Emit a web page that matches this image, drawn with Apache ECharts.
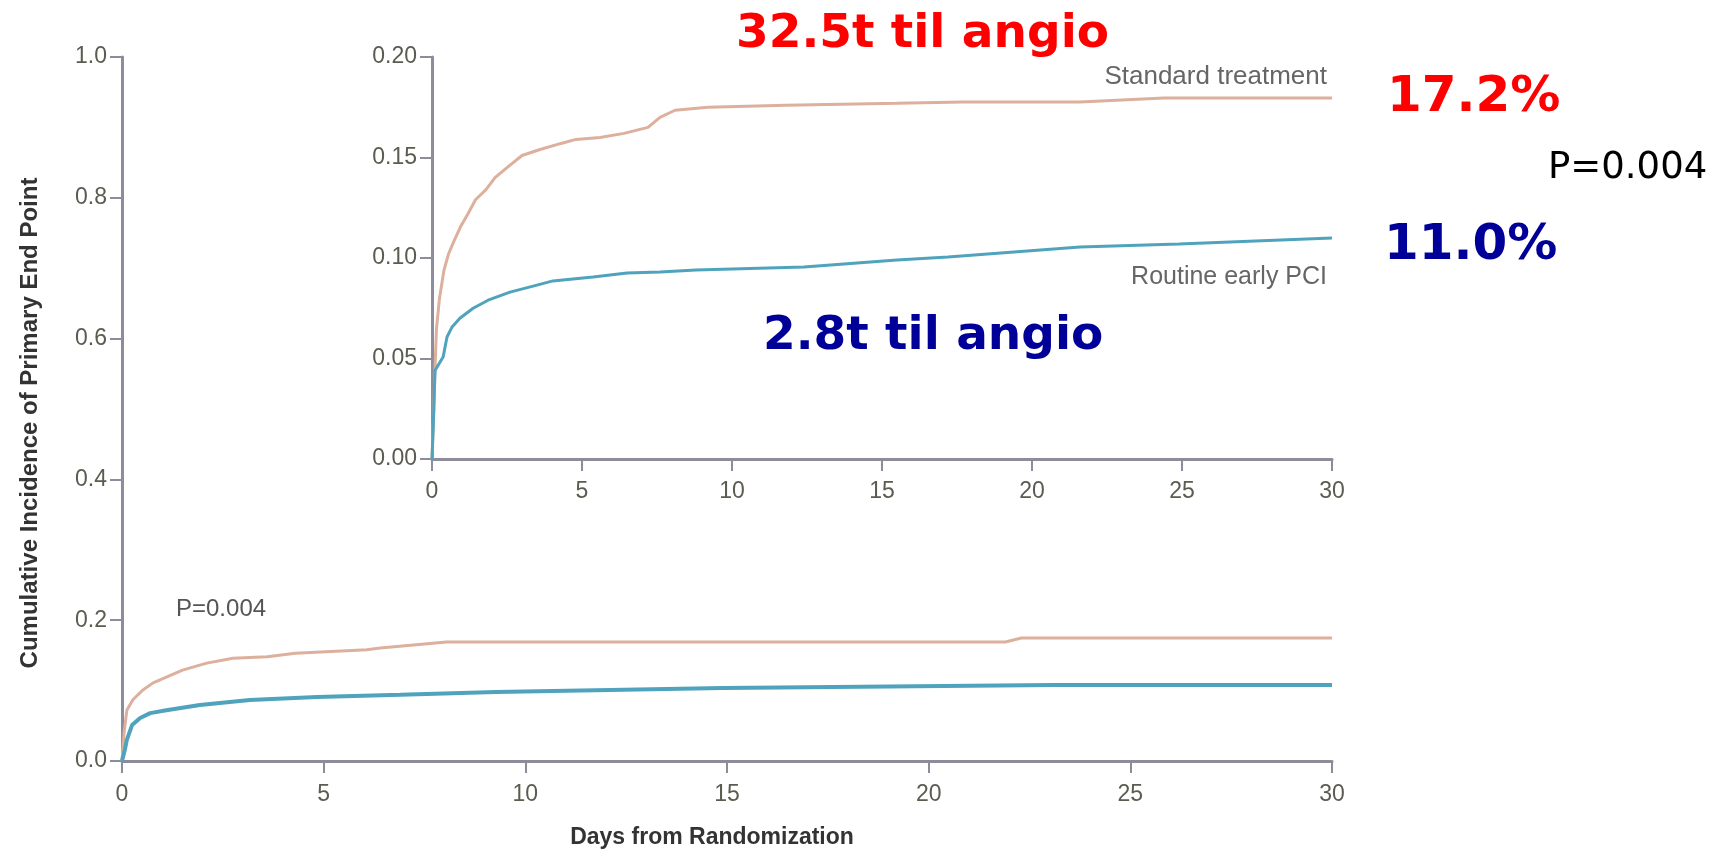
<!DOCTYPE html>
<html>
<head>
<meta charset="utf-8">
<script src="https://cdn.jsdelivr.net/npm/echarts@6/dist/echarts.min.js"></script>
<style>
html,body{margin:0;padding:0;background:#fff;}
#chart{width:1722px;height:852px;}
</style>
</head>
<body>
<div id="chart"></div>
<script>
// ---- Data (days, cumulative incidence) ----
var mainStandard = [[0,0],[0.05,0.04],[0.12,0.072],[0.27,0.087],[0.52,0.101],[0.77,0.111],[1.1,0.119],[1.5,0.129],[2.1,0.139],[2.75,0.146],[3.6,0.148],[4.3,0.153],[6.07,0.158],[6.4,0.1605],[8.05,0.169],[21.9,0.169],[22.3,0.1747],[30,0.1747]];
var mainPCI = [[0,0],[0.07,0.016],[0.12,0.03],[0.25,0.051],[0.45,0.061],[0.7,0.068],[1.1,0.072],[1.93,0.0795],[3.17,0.0866],[4.83,0.091],[6.9,0.094],[9.27,0.098],[14.9,0.1037],[23.1,0.108],[30,0.108]];
var insetStandard = [[0,0],[0.05,0.02],[0.1,0.045],[0.15,0.065],[0.25,0.08],[0.4,0.094],[0.55,0.102],[0.75,0.109],[0.95,0.1155],[1.2,0.122],[1.45,0.129],[1.8,0.134],[2.1,0.14],[2.5,0.145],[3.0,0.151],[3.6,0.154],[4.3,0.157],[4.8,0.159],[5.6,0.16],[6.4,0.162],[7.2,0.165],[7.6,0.17],[8.1,0.1735],[9.2,0.175],[11.8,0.176],[15.5,0.177],[17.7,0.1776],[21.6,0.1776],[24.4,0.1796],[30,0.1796]];
var insetPCI = [[0,0],[0.05,0.02],[0.1,0.044],[0.37,0.0507],[0.5,0.0607],[0.67,0.0657],[0.93,0.07],[1.37,0.075],[1.87,0.079],[2.6,0.083],[3.37,0.086],[4.03,0.0886],[5.37,0.0906],[6.5,0.0925],[7.6,0.093],[8.8,0.094],[12.4,0.0955],[15.5,0.099],[17.2,0.1005],[19.4,0.103],[21.6,0.1055],[24.9,0.1070],[28.3,0.109],[30,0.11]];
var xTicks = [0,5,10,15,20,25,30];
var mainYTicks = ['0.0','0.2','0.4','0.6','0.8','1.0'];
var insetYTicks = ['0.00','0.05','0.10','0.15','0.20'];
var seriesNames = ['Standard treatment','Routine early PCI'];

var axisCol = '#8c8c9a';
var labCol = '#5b5b50';
var orange = '#dcb09c';
var blue = '#4fa3bd';

function axisCommon(){
  return {
    axisLine:{show:true,lineStyle:{color:axisCol,width:3}},
    axisTick:{show:true,length:12,lineStyle:{color:axisCol,width:2}},
    splitLine:{show:false},
    axisLabel:{color:labCol,fontSize:23,fontFamily:'Liberation Sans',margin:15}
  };
}
function xAx(gi, margin){
  var a = axisCommon();
  a.type='value'; a.gridIndex=gi; a.min=xTicks[0]; a.max=xTicks[xTicks.length-1]; a.interval=5;
  a.axisLabel.margin=margin;
  return a;
}
function yAx(gi, ticks, interval){
  var a = axisCommon();
  a.type='value'; a.gridIndex=gi; a.min=0; a.max=interval*(ticks.length-1); a.interval=interval;
  a.axisLabel.formatter=function(v){ var i=Math.round(v/interval); return ticks[i]; };
  return a;
}

var chart = echarts.init(document.getElementById('chart'));
chart.setOption({
  animation:false,
  backgroundColor:'#fff',
  grid:[
    {left:122, top:57, right:390, bottom:91},
    {left:432, top:57, right:390, bottom:393}
  ],
  xAxis:[ xAx(0, 22), xAx(1, 21)],
  yAxis:[ yAx(0, mainYTicks, 0.2), yAx(1, insetYTicks, 0.05)],
  series:[
    {type:'line',name:seriesNames[0],xAxisIndex:0,yAxisIndex:0,data:mainStandard,symbol:'none',lineStyle:{color:orange,width:3}},
    {type:'line',name:seriesNames[1],xAxisIndex:0,yAxisIndex:0,data:mainPCI,symbol:'none',lineStyle:{color:blue,width:4}},
    {type:'line',name:seriesNames[0],xAxisIndex:1,yAxisIndex:1,data:insetStandard,symbol:'none',lineStyle:{color:orange,width:3}},
    {type:'line',name:seriesNames[1],xAxisIndex:1,yAxisIndex:1,data:insetPCI,symbol:'none',lineStyle:{color:blue,width:3}}
  ],
  graphic:[
    {type:'text',x:30,y:423,rotation:Math.PI/2,style:{text:'Cumulative Incidence of Primary End Point',fill:'#333',font:'bold 24px "Liberation Sans"',textAlign:'center',textVerticalAlign:'middle'}},
    {type:'text',x:712,y:838,style:{text:'Days from Randomization',fill:'#333',font:'bold 23px "Liberation Sans"',textAlign:'center',textVerticalAlign:'middle'}},
    {type:'text',x:176,y:609,style:{text:'P=0.004',fill:'#555',font:'24px "Liberation Sans"',textAlign:'left',textVerticalAlign:'middle'}},
    {type:'text',x:1327,y:77,style:{text:seriesNames[0],fill:'#666',font:'26px "Liberation Sans"',textAlign:'right',textVerticalAlign:'middle'}},
    {type:'text',x:1327,y:277,style:{text:seriesNames[1],fill:'#666',font:'25px "Liberation Sans"',textAlign:'right',textVerticalAlign:'middle'}},
    {type:'text',x:736,y:35,style:{text:'32.5t til angio',fill:'#ff0000',font:'bold 47px "DejaVu Sans"',textAlign:'left',textVerticalAlign:'middle'}},
    {type:'text',x:763,y:337,style:{text:'2.8t til angio',fill:'#000099',font:'bold 47px "DejaVu Sans"',textAlign:'left',textVerticalAlign:'middle'}},
    {type:'text',x:1387,y:98,style:{text:'17.2%',fill:'#ff0000',font:'bold 50px "DejaVu Sans"',textAlign:'left',textVerticalAlign:'middle'}},
    {type:'text',x:1384,y:246,style:{text:'11.0%',fill:'#000099',font:'bold 50px "DejaVu Sans"',textAlign:'left',textVerticalAlign:'middle'}},
    {type:'text',x:1548,y:168,style:{text:'P=0.004',fill:'#000',font:'37px "DejaVu Sans"',textAlign:'left',textVerticalAlign:'middle'}}
  ]
});
</script>
</body>
</html>
